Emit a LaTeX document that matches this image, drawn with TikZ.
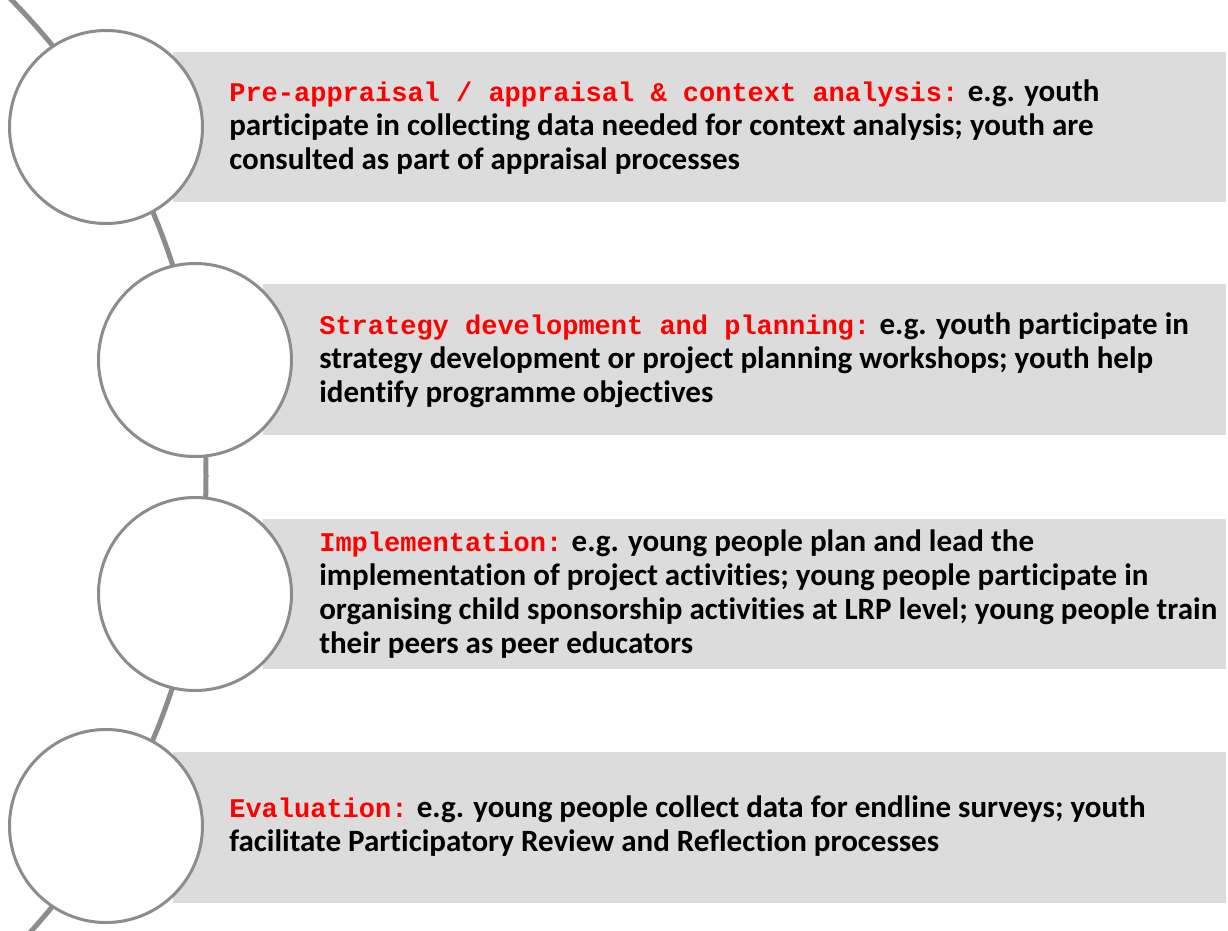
\documentclass[tikz,border=0pt]{standalone}
\usepackage{fontspec}
\setmainfont{Carlito}[Ligatures=NoCommon]
\newfontfamily\headfont{Liberation Mono}
\usepackage{xcolor}
\usetikzlibrary{positioning}

\definecolor{bandgray}{RGB}{220,220,220}
\definecolor{ringgray}{RGB}{140,140,140}
\definecolor{headred}{RGB}{255,0,0}
\newcommand{\stagehead}[1]{{\fontsize{27}{34}\selectfont\headfont\color{headred}#1}}

\begin{document}
\begin{tikzpicture}[x=1pt,y=-1pt,semithick]
  \tikzstyle{band}=[fill=bandgray, draw=none]
  \tikzstyle{ring}=[circle, draw=ringgray, line width=3pt, fill=white, minimum size=193pt, inner sep=0pt]
  \tikzstyle{stagetext}=[anchor=west, align=left, inner sep=0pt, font=\fontsize{31}{34}\selectfont\bfseries]

  \useasboundingbox (0,0) rectangle (1228,930);
  \clip (0,0) rectangle (1228,930);

  % grey bands behind the text
  \fill[band] (173,52) rectangle (1226,202);
  \fill[band] (263,284) rectangle (1226,435);
  \fill[band] (263,519) rectangle (1226,669);
  \fill[band] (173,752) rectangle (1226,903);

  % the curved spine through the circles
  \coordinate (hub) at (-474,476);
  \draw[ringgray, line width=5pt] (hub) circle[radius=680pt];

  % circles
  \node[ring] (c1) at (106,127) {};
  \node[ring] (c2) at (195,360) {};
  \node[ring] (c3) at (195,594) {};
  \node[ring] (c4) at (106,826) {};

  % stage texts
  \node[stagetext] (t1) at (229,127) {\stagehead{Pre-appraisal / appraisal \& context analysis:} e.g. youth\\
    participate in collecting data needed for context analysis; youth are\\
    consulted as part of appraisal processes};
  \node[stagetext] (t2) at (319,360) {\stagehead{Strategy development and planning:} e.g. youth participate in\\
    strategy development or project planning workshops; youth help\\
    identify programme objectives};
  \node[stagetext] (t3) at (319,594) {\stagehead{Implementation:} e.g. young people plan and lead the\\
    implementation of project activities; young people participate in\\
    organising child sponsorship activities at LRP level; young people train\\
    their peers as peer educators};
  \node[stagetext] (t4) at (229,826) {\stagehead{Evaluation:} e.g. young people collect data for endline surveys; youth\\
    facilitate Participatory Review and Reflection processes};
\end{tikzpicture}
\end{document}
